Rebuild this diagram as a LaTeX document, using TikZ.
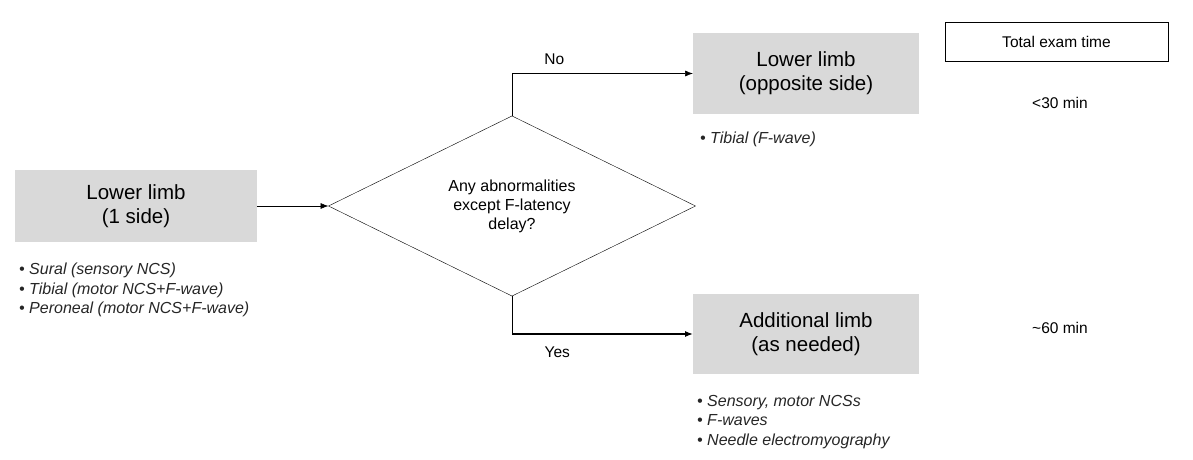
\documentclass[tikz,border=0pt]{standalone}
\usepackage{fontspec}
\setmainfont{Liberation Sans}
\usepackage{tikz}
\usetikzlibrary{arrows.meta,shapes.geometric,positioning}

\begin{document}
\begin{tikzpicture}[x=1pt,y=-1pt,
	limb/.style={fill={rgb,255:red,217;green,217;blue,217},shape=rectangle,inner sep=0pt,outer sep=0pt,align=center,font=\fontsize{20.5}{24}\selectfont},
	query/.style={draw,shape=diamond,minimum width=367pt,minimum height=178pt,inner sep=0pt,outer sep=0pt,align=center,font=\fontsize{16}{19}\selectfont},
	tests/.style={inner sep=0pt,anchor=north west,align=left,text=black!85,font=\fontsize{16}{19.5}\selectfont\itshape},
	small/.style={inner sep=0pt,font=\fontsize{15.5}{19}\selectfont}]
\useasboundingbox (0,0) rectangle (1193,460);
\node[limb,minimum width=242pt,minimum height=72pt] (start) at (136,206) {Lower limb\\(1 side)};
\node[query] (q) at (512,206) {Any abnormalities\\except F-latency\\delay?};
\node[limb,minimum width=226pt,minimum height=81pt] (opp) at (806,73.5) {Lower limb\\(opposite side)};
\node[limb,minimum width=226pt,minimum height=80pt] (add) at (806,334) {Additional limb\\(as needed)};
\coordinate (bend) at (q.south |- add.west);
\draw[semithick,-{Latex[length=8pt,width=6pt]}] (start) -- (q);
\draw[semithick,-{Latex[length=8pt,width=6pt]}] (q.north) |- node[small,pos=0.617,above,yshift=9pt] (no) {No} (opp);
\draw[semithick] (q.south) -- (bend);
\draw[very thick,-{Latex[length=8pt,width=6pt]}] (bend) -- node[small,pos=0.25,below,yshift=-12pt] (yes) {Yes} (add);
\node[tests] (startlist) at (19,263) {\textbullet{} Sural (sensory NCS)\\\textbullet{} Tibial (motor NCS+F-wave)\\\textbullet{} Peroneal (motor NCS+F-wave)};
\node[tests] (opplist) at (700,132) {\textbullet{} Tibial (F-wave)};
\node[tests] (addlist) at (697,395) {\textbullet{} Sensory, motor NCSs\\\textbullet{} F-waves\\\textbullet{} Needle electromyography};
\node[draw,small,minimum width=223pt,minimum height=39pt] (total) at (1056.5,41.5) {Total exam time};
\node[small] (short) at (1060,103) {<30 min};
\node[small] (long) at (1060,328) {\textasciitilde60 min};
\end{tikzpicture}
\end{document}
